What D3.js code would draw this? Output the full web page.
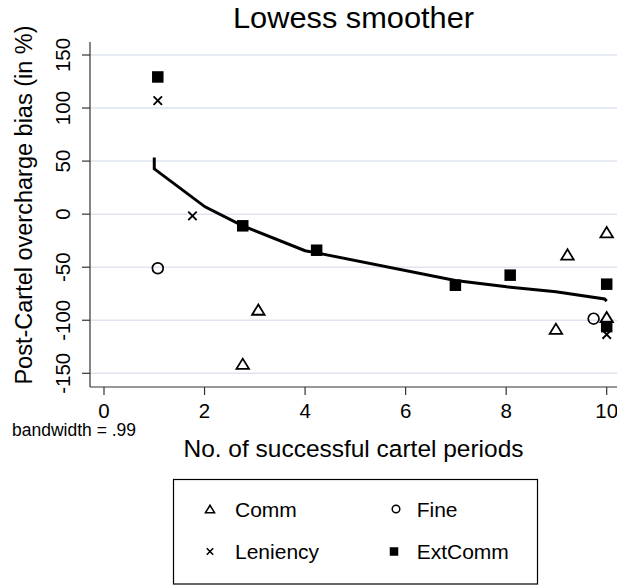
<!DOCTYPE html>
<html><head><meta charset="utf-8">
<script src="https://cdn.jsdelivr.net/npm/d3@7"></script>
<style>body{margin:0;background:#fff}svg{display:block}text{font-family:"Liberation Sans",Arial,Helvetica,sans-serif;fill:#000}</style>
</head><body><div id="chart"></div>
<script>
const title = "Lowess smoother";
const xLabel = "No. of successful cartel periods";
const yLabel = "Post-Cartel overcharge bias (in %)";
const note = "bandwidth = .99";
const xTicks = [0, 2, 4, 6, 8, 10];
const yTicks = [-150, -100, -50, 0, 50, 100, 150];

const commX = [3.07, 2.76, 10, 9.22, 10, 8.99];
const commY = [-90, -141, -17, -38, -97, -108];
const fineX = [1.07, 9.74];
const fineY = [-51, -98.5];
const lenX = [1.07, 1.76, 10];
const lenY = [107, -1.6, -113.5];
const extX = [1.07, 2.76, 4.23, 6.99, 8.08, 10, 10];
const extY = [129.3, -11, -34, -67, -57.5, -66, -106];

const lowessX = [1.0, 1.0, 2.01, 2.76, 4.0, 4.23, 6.99, 8.01, 8.99, 9.96, 10.0];
const lowessY = [53.4, 42.7, 6.9, -11.0, -34.5, -36.5, -62.5, -68.5, -73.2, -80, -82];

const legendItems = ["Comm", "Fine", "Leniency", "ExtComm"];

const W = 617, H = 585;
const svg = d3.select("#chart").append("svg").attr("width", W).attr("height", H);

const x = d3.scaleLinear().domain([0, 10]).range([104, 606.7]);
const y = d3.scaleLinear().domain([-150, 150]).range([373.3, 55]);
const plotL = 90, plotR = 617, plotT = 42, plotB = 387;

// gridlines
svg.append("g").selectAll("line").data(yTicks).join("line")
  .attr("x1", plotL).attr("x2", plotR)
  .attr("y1", d => y(d)).attr("y2", d => y(d))
  .attr("stroke", "#dfe4ef").attr("stroke-width", 1.5);

// axes
const axisCol = "#333";
svg.append("line").attr("x1", plotL).attr("x2", plotL).attr("y1", plotT).attr("y2", plotB)
  .attr("stroke", axisCol).attr("stroke-width", 1.2);
svg.append("line").attr("x1", plotL).attr("x2", plotR).attr("y1", plotB).attr("y2", plotB)
  .attr("stroke", axisCol).attr("stroke-width", 1.2);

const yt = svg.append("g");
yt.selectAll("line").data(yTicks).join("line")
  .attr("x1", 82).attr("x2", plotL).attr("y1", d => y(d)).attr("y2", d => y(d))
  .attr("stroke", axisCol).attr("stroke-width", 1.2);
yt.selectAll("text").data(yTicks).join("text")
  .attr("transform", d => `translate(70,${y(d)}) rotate(-90)`)
  .attr("text-anchor", "middle").attr("font-size", 20.5).text(d => d);

const xt = svg.append("g");
xt.selectAll("line").data(xTicks).join("line")
  .attr("x1", d => x(d)).attr("x2", d => x(d)).attr("y1", plotB).attr("y2", 395)
  .attr("stroke", axisCol).attr("stroke-width", 1.2);
xt.selectAll("text").data(xTicks).join("text")
  .attr("x", d => x(d)).attr("y", 417.5)
  .attr("text-anchor", "middle").attr("font-size", 20.5).text(d => d);

// labels
svg.append("text").attr("x", 353.5).attr("y", 28.3).attr("text-anchor", "middle")
  .attr("font-size", 30).attr("textLength", 241).attr("lengthAdjust", "spacingAndGlyphs").text(title);
svg.append("text").attr("transform", "translate(32,205) rotate(-90)").attr("text-anchor", "middle")
  .attr("font-size", 23.5).text(yLabel);
svg.append("text").attr("x", 353.5).attr("y", 457).attr("text-anchor", "middle")
  .attr("font-size", 24.5).attr("textLength", 340).attr("lengthAdjust", "spacingAndGlyphs").text(xLabel);
svg.append("text").attr("x", 12).attr("y", 436).attr("font-size", 17.5).text(note);

// lowess line
const line = d3.line().x(d => x(d[0])).y(d => y(d[1]));
svg.append("path").datum(d3.zip(lowessX, lowessY)).attr("d", line)
  .attr("fill", "none").attr("stroke", "#000").attr("stroke-width", 3).attr("stroke-linejoin", "miter");

// marker drawers
function tri(g, cx, cy, s, sw) {
  const h = s * 0.82;
  g.append("path").attr("d", `M${cx - s/2},${cy + h/2}L${cx + s/2},${cy + h/2}L${cx},${cy - h/2}Z`)
    .attr("fill", "none").attr("stroke", "#000").attr("stroke-width", sw).attr("stroke-linejoin", "miter");
}
function circ(g, cx, cy, r, sw) {
  g.append("circle").attr("cx", cx).attr("cy", cy).attr("r", r)
    .attr("fill", "none").attr("stroke", "#000").attr("stroke-width", sw);
}
function cross(g, cx, cy, a, sw) {
  g.append("path").attr("d", `M${cx - a},${cy - a}L${cx + a},${cy + a}M${cx - a},${cy + a}L${cx + a},${cy - a}`)
    .attr("stroke", "#000").attr("stroke-width", sw);
}
function sq(g, cx, cy, s) {
  g.append("rect").attr("x", cx - s/2).attr("y", cy - s/2).attr("width", s).attr("height", s).attr("fill", "#000");
}

const m = svg.append("g");
d3.zip(commX, commY).forEach(d => tri(m, x(d[0]), y(d[1]), 12.5, 1.8));
d3.zip(fineX, fineY).forEach(d => circ(m, x(d[0]), y(d[1]), 5.4, 1.7));
d3.zip(lenX, lenY).forEach(d => cross(m, x(d[0]), y(d[1]), 4.2, 1.9));
d3.zip(extX, extY).forEach(d => sq(m, x(d[0]), y(d[1]), 11.5));

// legend
const lg = svg.append("g");
lg.append("rect").attr("x", 173.5).attr("y", 479.5).attr("width", 364).attr("height", 104.5)
  .attr("fill", "#fff").attr("stroke", "#000").attr("stroke-width", 1.2);
const lpos = [[210, 235, 509], [396, 416.7, 509], [210, 235, 551.5], [394, 416.7, 551.5]];
tri(lg, lpos[0][0], lpos[0][2], 9, 1.6);
circ(lg, lpos[1][0], lpos[1][2], 3.8, 1.5);
cross(lg, lpos[2][0], lpos[2][2], 3.2, 1.6);
sq(lg, lpos[3][0], lpos[3][2], 8.5);
lg.selectAll("text").data(legendItems).join("text")
  .attr("x", (d, i) => lpos[i][1]).attr("y", (d, i) => lpos[i][2] + 7.5)
  .attr("font-size", 21).text(d => d);
</script></body></html>
